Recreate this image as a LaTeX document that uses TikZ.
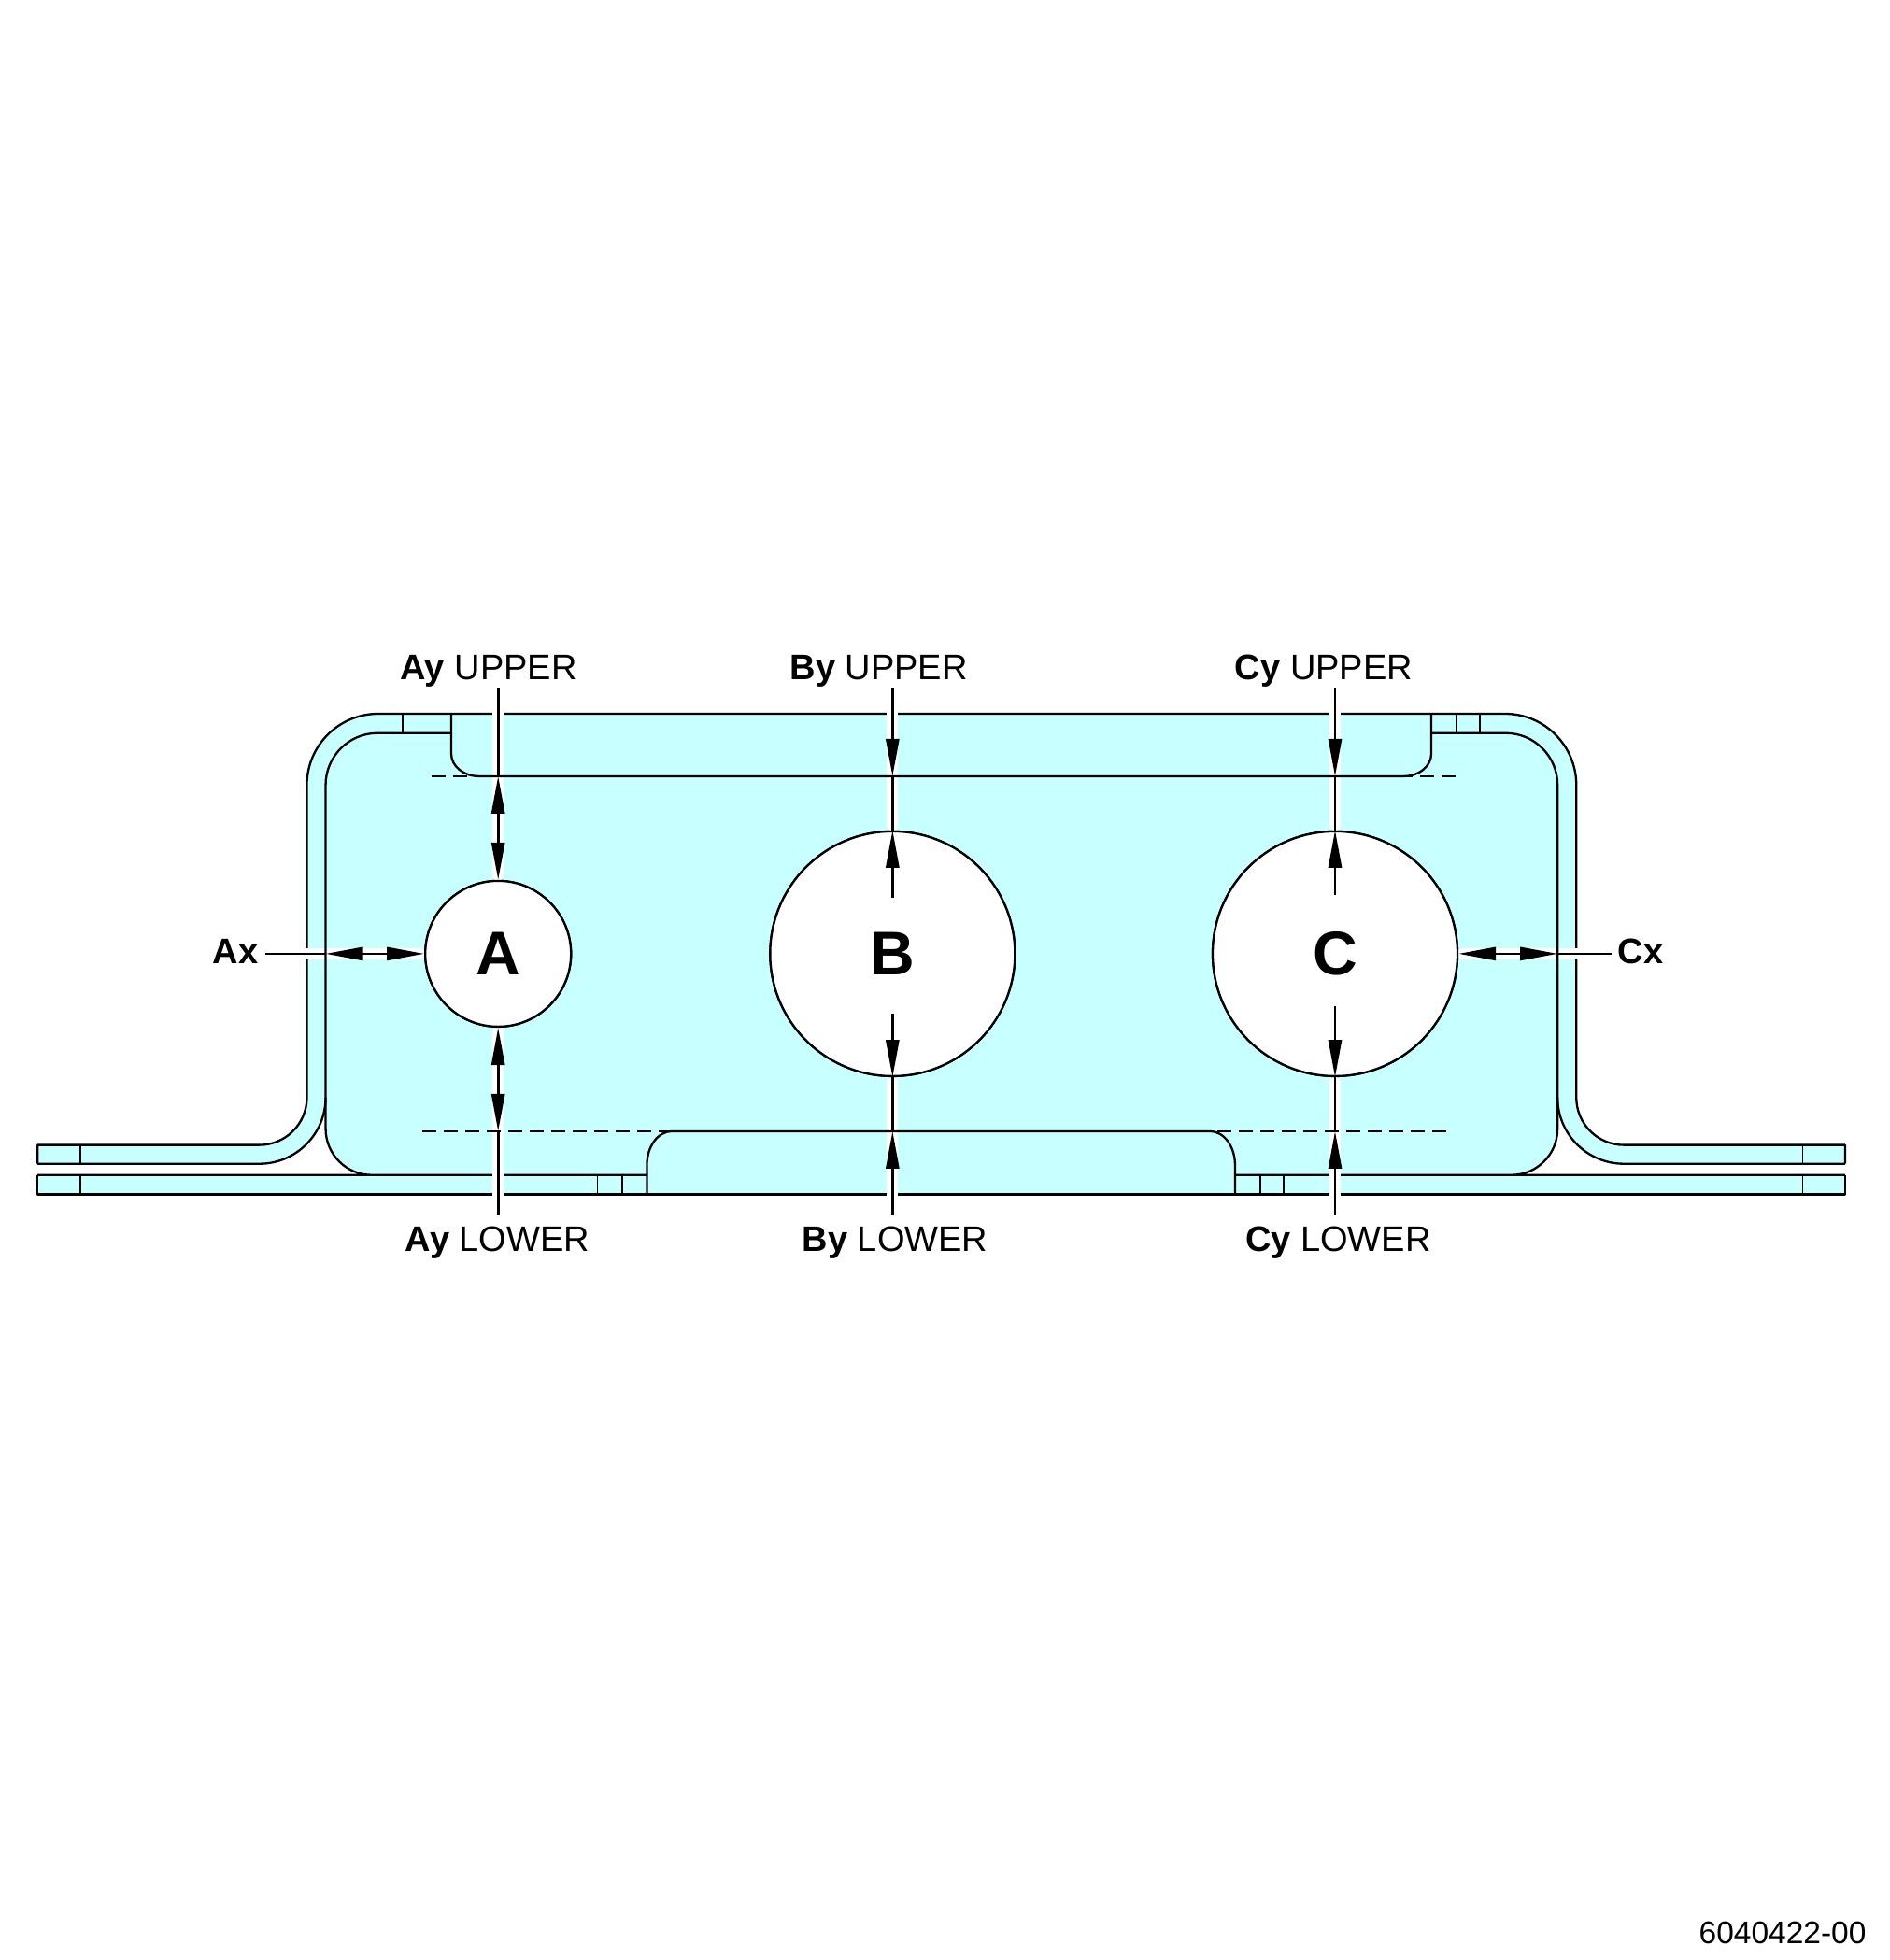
\documentclass[tikz,border=0pt]{standalone}
\usepackage{fontspec}
\usetikzlibrary{arrows.meta}
\setmainfont{Liberation Sans}
\definecolor{plate}{HTML}{C8FFFF}
\tikzset{
  part/.style={draw=black,line width=2.3pt,line join=round},
  thin part/.style={draw=black,line width=1.8pt},
  hidden/.style={draw=black,line width=1.6pt,dash pattern=on 15pt off 8pt},
  halo/.style={draw=white,line width=12pt,line cap=round},
  lead/.style={draw=black,line width=2.8pt},
  hh/.tip={Triangle[length=40pt,width=14pt]},
  lab/.style={font=\fontsize{38}{38}\selectfont,inner sep=0pt},
  blab/.style={font=\fontsize{38}{38}\selectfont\bfseries,inner sep=0pt},
  hole/.style={circle,draw=black,fill=white,line width=2.3pt,inner sep=0pt,font=\fontsize{66}{66}\selectfont\bfseries},
}
\begin{document}
\begin{tikzpicture}[x=1.338pt,y=-1.338pt]
\useasboundingbox (0,0) rectangle (1511.2,1568);
% filled plate
\fill[plate] (245.5,628) arc[start angle=180,end angle=270,radius=57] -- (1204,571) arc[start angle=270,end angle=360,radius=57]
  -- (1261,878) arc[start angle=180,end angle=90,radius=38] -- (1476,916) -- (1476,931) -- (1299,931)
  arc[start angle=90,end angle=180,radius=53] -- (1246,903) arc[start angle=0,end angle=90,radius=37] -- (1476,940) -- (1476,955.5)
  -- (30,955.5) -- (30,940) -- (297.5,940) arc[start angle=90,end angle=180,radius=37] -- (260.5,878)
  arc[start angle=0,end angle=90,radius=53] -- (30,931) -- (30,916) -- (207.5,916) arc[start angle=90,end angle=0,radius=38] -- cycle;
% lines interrupted by the leaders
\draw[part] (30,931) -- (30,916) -- (207.5,916) arc[start angle=90,end angle=0,radius=38] -- (245.5,628) arc[start angle=180,end angle=270,radius=57] -- (1204,571) arc[start angle=270,end angle=360,radius=57]
  -- (1261,878) arc[start angle=180,end angle=90,radius=38] -- (1476,916) -- (1476,931);
\draw[part] (260.5,878) -- (260.5,903) arc[start angle=180,end angle=90,radius=37] -- (517.5,940) (30,940) -- (297.5,940);
\draw[part] (1246,878) -- (1246,903) arc[start angle=0,end angle=90,radius=37] -- (988,940) (1209,940) -- (1476,940);
\draw[part] (30,940) -- (30,955.5) -- (1476,955.5) -- (1476,940);
% holes and free ends of the leaders
\node[hole,minimum size=156pt] (A) at (398.5,763) {A};
\node[hole,minimum size=262pt] (B) at (714,763) {B};
\node[hole,minimum size=262pt] (C) at (1068,763) {C};
\coordinate (a1) at (398.5,550);
\coordinate (ta) at (398.5,621);
\coordinate (ab) at (398.5,905);
\coordinate (a2) at (398.5,972);
\coordinate (b1) at (714,550);
\coordinate (tb) at (714,621);
\coordinate (b3) at (714,718);
\coordinate (b4) at (714,811);
\coordinate (bb) at (714,905);
\coordinate (b2) at (714,972);
\coordinate (c1) at (1068,550);
\coordinate (tc) at (1068,621);
\coordinate (c3) at (1068,716);
\coordinate (c4) at (1068,805);
\coordinate (cb) at (1068,905);
\coordinate (c2) at (1068,972);
\coordinate (ax1) at (212,763);
\coordinate (ax2) at (260.5,763);
\coordinate (cx2) at (1246,763);
\coordinate (cx1) at (1289,763);
% white halos
\draw[halo] (398.5,566) -- (398.5,700) (398.5,826) -- (398.5,961);
\draw[halo] (714,566) -- (714,660) (714,866) -- (714,961);
\draw[halo] (1068,566) -- (1068,660) (1068,866) -- (1068,961);
\draw[halo] (238,763) -- (336,763) (1170,763) -- (1268,763);
% lines drawn across the halos
\draw[part] (30,931) -- (207.5,931) arc[start angle=90,end angle=0,radius=53] -- (260.5,628) arc[start angle=180,end angle=270,radius=41.5] -- (361,586.5);
\draw[part] (1476,931) -- (1299,931) arc[start angle=90,end angle=180,radius=53] -- (1246,628) arc[start angle=0,end angle=-90,radius=41.5] -- (1145,586.5);
\draw[hidden] (345,621) -- (1168,621);
\draw[hidden] (338,905) -- (1161,905);
\draw[part] (361,571) -- (361,603) arc[start angle=180,end angle=90,x radius=22,y radius=18] -- (1123,621) arc[start angle=90,end angle=0,x radius=22,y radius=18] -- (1145,571);
\draw[part] (517.5,955.5) -- (517.5,932) arc[start angle=180,end angle=270,x radius=20,y radius=27] -- (968,905) arc[start angle=270,end angle=360,x radius=20,y radius=27] -- (988,955.5);
% ticks
\draw[thin part] (64,916) -- (64,931) (64,940) -- (64,955.5) (1442,916) -- (1442,931) (1442,940) -- (1442,955.5);
\draw[thin part] (322,571) -- (322,586.5) (1165,571) -- (1165,586.5) (1184,571) -- (1184,586.5);
\draw[thin part] (478,940) -- (478,955.5) (498,940) -- (498,955.5) (1008,940) -- (1008,955.5) (1027,940) -- (1027,955.5);
% circles again, above the halos
\node[hole,minimum size=156pt] at (A) {A};
\node[hole,minimum size=262pt] at (B) {B};
\node[hole,minimum size=262pt] at (C) {C};
% labels
\node[lab] (Ayu) at (391,537) {\textbf{Ay} UPPER};
\node[lab] (Byu) at (703,537) {\textbf{By} UPPER};
\node[lab] (Cyu) at (1059,537) {\textbf{Cy} UPPER};
\node[lab] (Ayl) at (398,994) {\textbf{Ay} LOWER};
\node[lab] (Byl) at (716,994) {\textbf{By} LOWER};
\node[lab] (Cyl) at (1070.5,994) {\textbf{Cy} LOWER};
\node[blab] (Ax) at (188.5,761) {Ax};
\node[blab] (Cx) at (1312.5,761) {Cx};
\node[lab,anchor=south east,font=\fontsize{33.5}{33.5}\selectfont] (pn) at (1493,1555) {6040422-00};
% leaders
\draw[lead] (a1) -- (ta);
\draw[lead,{hh}-{hh}] (ta) -- (A.north);
\draw[lead,{hh}-{hh}] (A.south) -- (ab);
\draw[lead] (ab) -- (a2);
\draw[lead,-{hh}] (b1) -- (tb);
\draw[lead] (tb) -- (B.north);
\draw[lead,-{hh}] (b3) -- (B.north);
\draw[lead,-{hh}] (b4) -- (B.south);
\draw[lead] (B.south) -- (bb);
\draw[lead,-{hh}] (b2) -- (bb);
\draw[lead,-{hh}] (c1) -- (tc);
\draw[lead] (tc) -- (C.north);
\draw[lead,-{hh}] (c3) -- (C.north);
\draw[lead,-{hh}] (c4) -- (C.south);
\draw[lead] (C.south) -- (cb);
\draw[lead,-{hh}] (c2) -- (cb);
\draw[lead] (ax1) -- (ax2);
\draw[lead,{hh}-{hh}] (ax2) -- (A.west);
\draw[lead,{hh}-{hh}] (C.east) -- (cx2);
\draw[lead] (cx2) -- (cx1);
\end{tikzpicture}
\end{document}
